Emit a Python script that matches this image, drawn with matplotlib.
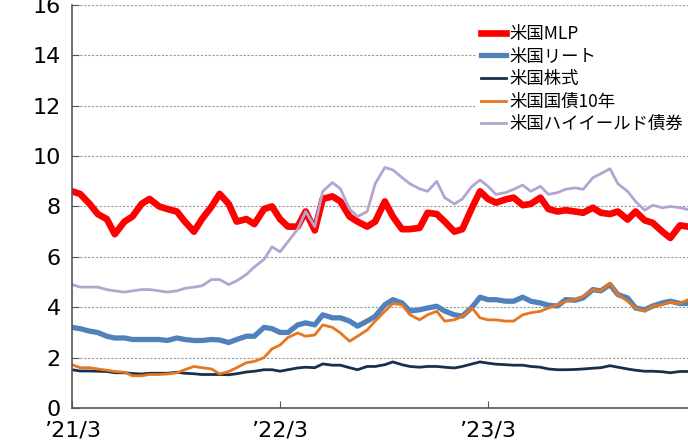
import matplotlib
matplotlib.use('Agg')
import matplotlib.pyplot as plt
import pandas as pd

plt.rcParams['font.family'] = ['Noto Sans CJK JP', 'DejaVu Sans']

# 半月ごとの値（2021/3〜2024/2）
dates = pd.date_range('2021-03-01', periods=72, freq='SMS')

mlp = [8.6, 8.5, 8.1, 7.7, 7.5, 6.9, 7.4, 7.6, 8.1, 8.3, 8.0, 7.9, 7.8, 7.4, 7.0, 7.5,
       8.0, 8.5, 8.1, 7.4, 7.5, 7.3, 7.9, 8.0, 7.5, 7.2, 7.2, 7.8, 7.05, 8.3, 8.4, 8.2,
       7.6, 7.4, 7.2, 7.4, 8.2, 7.6, 7.1, 7.1, 7.15, 7.75, 7.7, 7.4, 7.0, 7.1, 7.95, 8.6,
       8.3, 8.15, 8.28, 8.35, 8.05, 8.1, 8.35, 7.9, 7.8, 7.85, 7.8, 7.75, 7.95, 7.75, 7.7, 7.8,
       7.48, 7.8, 7.45, 7.35, 7.0, 6.75, 7.25, 7.2]
reit = [3.2, 3.15, 3.05, 3.0, 2.85, 2.78, 2.78, 2.72, 2.72, 2.72, 2.72, 2.68, 2.78, 2.72, 2.68, 2.68,
        2.72, 2.7, 2.6, 2.72, 2.85, 2.85, 3.2, 3.15, 3.0, 3.0, 3.3, 3.38, 3.3, 3.7, 3.58, 3.58,
        3.45, 3.25, 3.45, 3.64, 4.1, 4.3, 4.17, 3.85, 3.9, 3.97, 4.04, 3.85, 3.7, 3.65, 4.0, 4.4,
        4.3, 4.3, 4.24, 4.24, 4.4, 4.24, 4.17, 4.08, 4.05, 4.3, 4.28, 4.37, 4.7, 4.65, 4.9, 4.5,
        4.37, 3.97, 3.9, 4.05, 4.17, 4.24, 4.15, 4.15]
stock = [1.52, 1.47, 1.47, 1.46, 1.45, 1.4, 1.4, 1.37, 1.35, 1.38, 1.38, 1.38, 1.42, 1.38, 1.36, 1.33,
         1.33, 1.33, 1.32, 1.36, 1.43, 1.46, 1.52, 1.52, 1.46, 1.52, 1.59, 1.62, 1.6, 1.75, 1.7, 1.7,
         1.6, 1.52, 1.65, 1.65, 1.72, 1.83, 1.72, 1.65, 1.62, 1.65, 1.65, 1.62, 1.59, 1.65, 1.75, 1.83,
         1.78, 1.74, 1.72, 1.7, 1.7, 1.65, 1.62, 1.55, 1.52, 1.52, 1.53, 1.55, 1.58, 1.6, 1.68, 1.62,
         1.55, 1.5, 1.46, 1.46, 1.44, 1.4, 1.45, 1.45]
bond10 = [1.72, 1.6, 1.6, 1.55, 1.5, 1.45, 1.42, 1.28, 1.28, 1.33, 1.33, 1.35, 1.4, 1.52, 1.65, 1.6,
          1.55, 1.35, 1.45, 1.6, 1.8, 1.85, 2.0, 2.35, 2.5, 2.8, 2.98, 2.85, 2.9, 3.3, 3.2, 2.98,
          2.65, 2.85, 3.1, 3.45, 3.84, 4.15, 4.1, 3.7, 3.5, 3.7, 3.84, 3.45, 3.5, 3.64, 3.97, 3.58,
          3.5, 3.5, 3.45, 3.45, 3.7, 3.78, 3.84, 3.97, 4.1, 4.24, 4.3, 4.44, 4.7, 4.65, 4.95, 4.5,
          4.24, 3.97, 3.84, 4.05, 4.1, 4.2, 4.15, 4.3]
hy = [4.9, 4.8, 4.8, 4.8, 4.7, 4.65, 4.6, 4.65, 4.7, 4.7, 4.65, 4.6, 4.65, 4.75, 4.8, 4.85,
      5.1, 5.1, 4.9, 5.05, 5.3, 5.6, 5.9, 6.4, 6.2, 6.6, 7.1, 7.8, 7.2, 8.6, 8.95, 8.7,
      7.9, 7.6, 7.8, 8.9, 9.55, 9.45, 9.15, 8.9, 8.7, 8.6, 9.0, 8.35, 8.1, 8.3, 8.8, 9.05,
      8.8, 8.48, 8.55, 8.68, 8.85, 8.6, 8.8, 8.48, 8.55, 8.68, 8.74, 8.68, 9.14, 9.3, 9.5, 8.9,
      8.6, 8.2, 7.85, 8.05, 7.95, 8.0, 7.95, 7.88]

labels = ['米国MLP', '米国リート', '米国株式', '米国国債10年', '米国ハイイールド債券']
colors = ['#FF0000', '#4F81BD', '#17304F', '#E8761E', '#B4A5D0']
widths = [4.8, 3.8, 2.0, 2.0, 2.0]
series = [mlp, reit, stock, bond10, hy]

tick_x = pd.to_datetime(['2021-03-01', '2022-03-01', '2023-03-01'])
tick_lab = ['’21/3', '’22/3', '’23/3']

fig = plt.figure(figsize=(6.88, 4.47), dpi=100)
ax = fig.add_axes([0.1047, 0.0872, 0.8953, 0.9018])

for s, lab, c, w in zip(series, labels, colors, widths):
    ax.plot(dates, s, color=c, lw=w, label=lab)

ax.set_ylim(0, 16)
ax.set_yticks(range(0, 17, 2))
ax.set_xlim(dates[0], dates[-1])
ax.set_xticks(tick_x)
ax.set_xticklabels(tick_lab)
for t in ax.get_xticklabels() + ax.get_yticklabels():
    t.set_family('DejaVu Sans')
    t.set_fontsize(16)

ax.grid(axis='y', linestyle=(0, (2, 1.5)), color='#999999', lw=0.8)
ax.set_axisbelow(True)
for sp in ['top', 'right']:
    ax.spines[sp].set_visible(False)
for sp in ['left', 'bottom']:
    ax.spines[sp].set_color('#555555')
    ax.spines[sp].set_linewidth(1.2)
ax.tick_params(axis='both', direction='in', length=5, color='#555555')
ax.tick_params(axis='y', pad=8)
ax.tick_params(axis='x', pad=9)

leg = ax.legend(loc='upper right', bbox_to_anchor=(1.0, 0.963), fontsize=12.5,
                frameon=True, framealpha=1, edgecolor='none', fancybox=False,
                handlelength=1.45, handletextpad=0.15, labelspacing=0.26,
                borderpad=0.3, borderaxespad=0.0)

plt.savefig('out.png', dpi=100)
plt.close()
